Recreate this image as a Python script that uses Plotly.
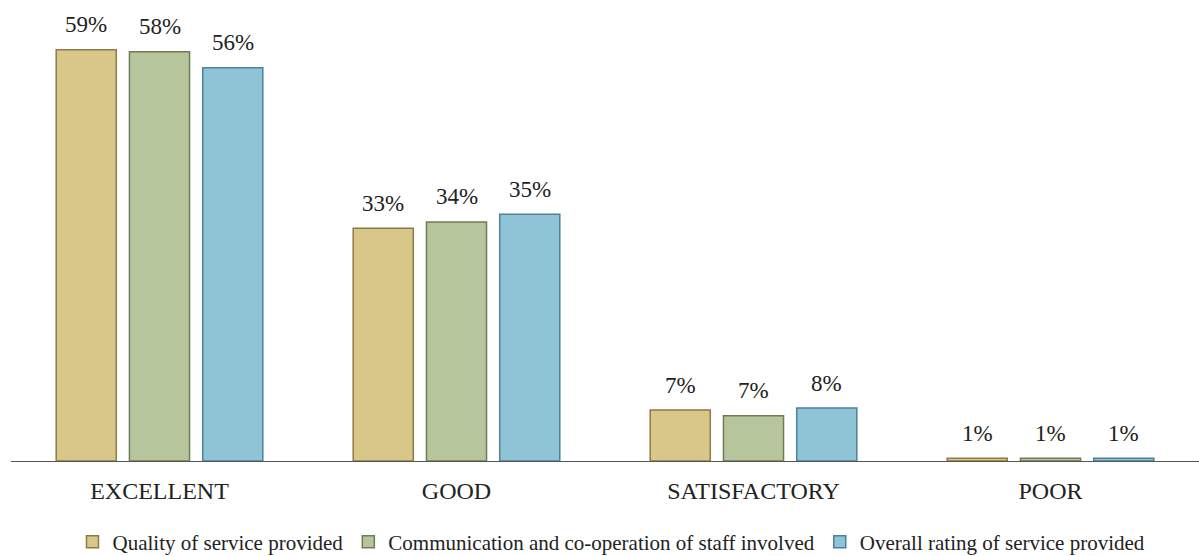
import plotly.graph_objects as go

categories = ["EXCELLENT", "GOOD", "SATISFACTORY", "POOR"]
series_names = [
    "Quality of service provided",
    "Communication and co-operation of staff involved",
    "Overall rating of service provided",
]
quality = [59.0, 33.4, 7.3, 0.4]
communication = [58.7, 34.3, 6.5, 0.4]
overall = [56.4, 35.4, 7.6, 0.4]
quality_labels = ["59%", "33%", "7%", "1%"]
communication_labels = ["58%", "34%", "7%", "1%"]
overall_labels = ["56%", "35%", "8%", "1%"]

colors = ["#D9C78A", "#B7C59D", "#8FC4D7"]
edge_colors = ["#8C7B45", "#6E7C58", "#4E8198"]

FONT = "Liberation Serif"
W, H = 1199, 556
ML, MR, MT, MB = 11, 0, 10, 95
BARGAP = 0.26

fig = go.Figure()
all_vals = [quality, communication, overall]
all_labs = [quality_labels, communication_labels, overall_labels]
for name, vals, c, ec in zip(series_names, all_vals, colors, edge_colors):
    fig.add_trace(
        go.Bar(
            name=name,
            x=categories,
            y=vals,
            marker=dict(color=c, line=dict(color=ec, width=1.5)),
        )
    )

# value labels placed above each grouped bar
cat_px = (W - ML - MR) / len(categories)
slot_px = cat_px * (1 - BARGAP) / len(series_names)
for i, (vals, labs) in enumerate(zip(all_vals, all_labs)):
    off = (i - (len(series_names) - 1) / 2) * slot_px
    for cat, v, lab in zip(categories, vals, labs):
        fig.add_annotation(
            x=cat, y=v, xref="x", yref="y",
            text=lab, showarrow=False,
            xshift=off, yshift=25, yanchor="middle",
            font=dict(family=FONT, size=23, color="#222"),
        )

fig.update_layout(
    width=W,
    height=H,
    paper_bgcolor="white",
    plot_bgcolor="white",
    barmode="group",
    bargap=BARGAP,
    bargroupgap=0.18,
    margin=dict(l=ML, r=MR, t=MT, b=MB, autoexpand=False),
    font=dict(family=FONT, color="#222"),
    showlegend=True,
    legend=dict(
        orientation="h",
        x=0.51,
        xanchor="center",
        xref="container",
        yref="container",
        y=0.025,
        yanchor="middle",
        font=dict(family=FONT, size=21, color="#222"),
        itemwidth=30,
        traceorder="normal",
    ),
    xaxis=dict(
        showline=True,
        linecolor="#555",
        linewidth=1,
        ticks="",
        ticklabelstandoff=8,
        tickfont=dict(family=FONT, size=24, color="#222"),
        showgrid=False,
        automargin=False,
    ),
    yaxis=dict(
        range=[0, 64.7],
        visible=False,
        showgrid=False,
        automargin=False,
    ),
)

fig.write_html(
    "out.html",
    config={"displayModeBar": False},
    post_script="document.body.style.margin='0px';",
)
